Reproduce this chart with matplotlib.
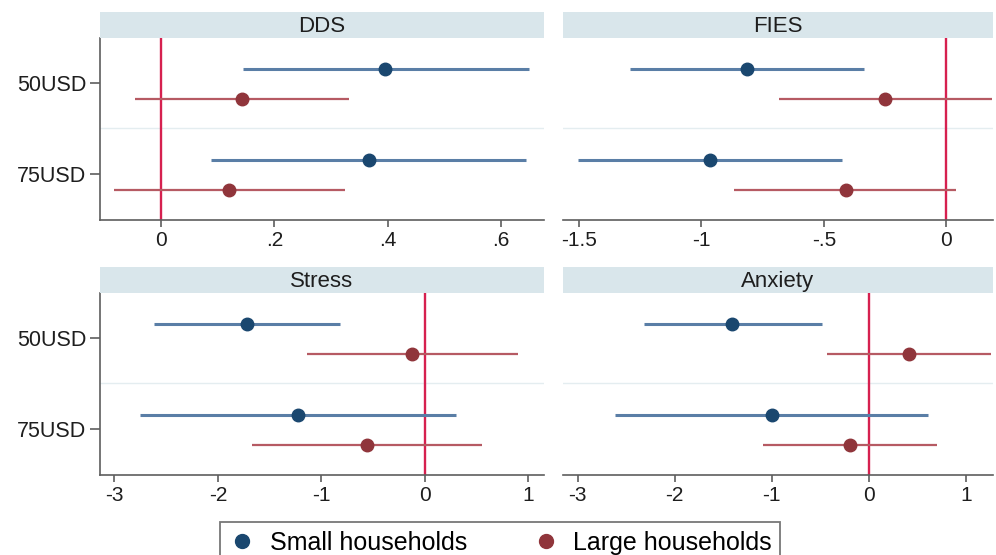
import matplotlib
matplotlib.use("Agg")
import matplotlib.pyplot as plt
from matplotlib.lines import Line2D

plt.rcParams["font.family"] = ["Liberation Sans", "DejaVu Sans"]

# Treatment arms shown on the y axis
arms = ["50USD", "75USD"]
groups = ["Small households", "Large households"]

# Point estimates and 95% CIs per outcome: [50USD, 75USD]
dds_small = [0.396, 0.367]
dds_small_lo = [0.145, 0.088]
dds_small_hi = [0.649, 0.645]
dds_large = [0.143, 0.120]
dds_large_lo = [-0.046, -0.083]
dds_large_hi = [0.331, 0.324]

fies_small = [-0.813, -0.964]
fies_small_lo = [-1.291, -1.504]
fies_small_hi = [-0.335, -0.425]
fies_large = [-0.249, -0.409]
fies_large_lo = [-0.682, -0.866]
fies_large_hi = [0.184, 0.041]

stress_small = [-1.715, -1.225]
stress_small_lo = [-2.62, -2.755]
stress_small_hi = [-0.82, 0.30]
stress_large = [-0.125, -0.56]
stress_large_lo = [-1.14, -1.67]
stress_large_hi = [0.895, 0.555]

anx_small = [-1.41, -1.00]
anx_small_lo = [-2.32, -2.61]
anx_small_hi = [-0.48, 0.61]
anx_large = [0.41, -0.195]
anx_large_lo = [-0.43, -1.09]
anx_large_hi = [1.255, 0.70]

panels = [
    ("DDS", dds_small, dds_small_lo, dds_small_hi, dds_large, dds_large_lo, dds_large_hi,
     (-0.108, 0.676), [0, 0.2, 0.4, 0.6], ["0", ".2", ".4", ".6"]),
    ("FIES", fies_small, fies_small_lo, fies_small_hi, fies_large, fies_large_lo, fies_large_hi,
     (-1.565, 0.19), [-1.5, -1, -0.5, 0], ["-1.5", "-1", "-.5", "0"]),
    ("Stress", stress_small, stress_small_lo, stress_small_hi, stress_large, stress_large_lo, stress_large_hi,
     (-3.14, 1.15), [-3, -2, -1, 0, 1], ["-3", "-2", "-1", "0", "1"]),
    ("Anxiety", anx_small, anx_small_lo, anx_small_hi, anx_large, anx_large_lo, anx_large_hi,
     (-3.15, 1.28), [-3, -2, -1, 0, 1], ["-3", "-2", "-1", "0", "1"]),
]

W, H = 996, 555
fig = plt.figure(figsize=(W / 100, H / 100), dpi=100)

# pixel boxes (left, top, right, bottom) for each panel's plotting area
boxes = [(100, 38, 544, 220), (563, 38, 993, 220),
         (100, 293, 544, 475), (563, 293, 993, 475)]
header_h = 26

blue_m, blue_l = "#1a476f", "#5a7ea6"
red_m, red_l = "#90353b", "#b65a63"
zero_c = "#d6204f"
spine_c = "#5e5e5e"
strip_c = "#d9e6eb"
text_c = "#1e1e1e"

off_small, off_large = -0.155, 0.175
for i, (p, box) in enumerate(zip(panels, boxes)):
    title, s, slo, shi, l, llo, lhi, xlim, ticks, tlabels = p
    x0, y0, x1, y1 = box
    ax = fig.add_axes([x0 / W, 1 - y1 / H, (x1 - x0) / W, (y1 - y0) / H])
    hx = fig.add_axes([x0 / W, 1 - y0 / H, (x1 - x0) / W, header_h / H])
    hx.set_facecolor(strip_c)
    hx.set_xticks([]); hx.set_yticks([])
    for sp in hx.spines.values():
        sp.set_visible(False)
    hx.text(0.5, 0.45, title, ha="center", va="center", fontsize=16, color=text_c,
            transform=hx.transAxes)

    ypos = list(range(1, len(arms) + 1))
    ax.axhline(1.49, color="#e4edf0", lw=1, zorder=0)
    ax.axvline(0, color=zero_c, lw=1.7, zorder=1)
    for k, y in enumerate(ypos):
        ax.plot([slo[k], shi[k]], [y + off_small] * 2, color=blue_l, lw=2.2, zorder=2,
                solid_capstyle="butt")
        ax.plot([llo[k], lhi[k]], [y + off_large] * 2, color=red_l, lw=1.6, zorder=2,
                solid_capstyle="butt")
    ax.plot(s, [y + off_small for y in ypos], "o", color=blue_m, ms=9, zorder=3)
    ax.plot(l, [y + off_large for y in ypos], "o", color=red_m, ms=9, zorder=3)

    ax.set_xlim(*xlim)
    ax.set_ylim(2.505, 0.505)
    ax.set_xticks(ticks)
    ax.set_xticklabels(tlabels, fontsize=15, color=text_c)
    ax.spines["top"].set_visible(False)
    ax.spines["right"].set_visible(False)
    ax.spines["bottom"].set_color(spine_c)
    ax.spines["bottom"].set_linewidth(1.2)
    ax.tick_params(axis="x", colors=spine_c, length=5, width=1.2, pad=3, labelcolor=text_c)
    if i % 2 == 0:
        ax.spines["left"].set_color(spine_c)
        ax.spines["left"].set_linewidth(1.2)
        ax.set_yticks(ypos)
        ax.set_yticklabels(arms, fontsize=15.5, color=text_c)
        ax.tick_params(axis="y", colors=spine_c, length=7, width=1.2, pad=3, labelcolor=text_c)
    else:
        ax.spines["left"].set_visible(False)
        ax.set_yticks([])

handles = [Line2D([], [], marker="o", ls="none", color=blue_m, ms=10),
           Line2D([], [], marker="o", ls="none", color=red_m, ms=10)]
leg = fig.legend(handles, groups, loc="upper center", ncol=2,
                 bbox_to_anchor=(500 / W, 1 - 522 / H), borderaxespad=0, fontsize=18,
                 frameon=True, fancybox=False, edgecolor="#555555",
                 borderpad=0.35, handletextpad=0.55, columnspacing=2.6, handlelength=1.1)
leg.get_frame().set_linewidth(1.3)

fig.savefig("out.png", dpi=100)
